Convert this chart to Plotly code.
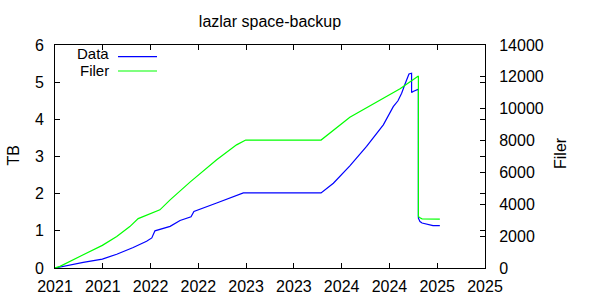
import plotly.graph_objects as go
import pandas as pd

# ---- data ----
data_dates = [
    "2021-01-01", "2021-02-08", "2021-04-19", "2021-07-01", "2021-08-25",
    "2021-10-27", "2021-12-17", "2022-01-06", "2022-01-18", "2022-03-17",
    "2022-04-24", "2022-06-05", "2022-06-16", "2022-09-11", "2022-11-26",
    "2022-12-22", "2023-10-15", "2023-12-01", "2024-02-02", "2024-04-06",
    "2024-06-09", "2024-07-17", "2024-08-04", "2024-08-18", "2024-08-31",
    "2024-09-09", "2024-09-15", "2024-09-25", "2024-09-25", "2024-10-01",
    "2024-10-12", "2024-10-21", "2024-10-21", "2024-10-27", "2024-11-04",
    "2024-11-19", "2024-11-30", "2024-12-16", "2025-01-11",
]
data_tb = [
    0.0, 0.06, 0.15, 0.24, 0.37,
    0.55, 0.72, 0.81, 1.00, 1.12,
    1.28, 1.38, 1.52, 1.75, 1.94,
    2.02, 2.02, 2.28, 2.75, 3.27,
    3.85, 4.34, 4.50, 4.70, 4.95,
    5.11, 5.22, 5.24, 4.72, 4.75,
    4.78, 4.81, 1.34, 1.25, 1.21,
    1.18, 1.16, 1.14, 1.14,
]

filer_dates = [
    "2021-01-01", "2021-01-20", "2021-04-19", "2021-07-01", "2021-08-25",
    "2021-10-14", "2021-11-15", "2021-12-30", "2022-02-06", "2022-03-17",
    "2022-06-01", "2022-09-11", "2022-11-26", "2022-12-31", "2023-10-15",
    "2024-02-02", "2024-06-09", "2024-08-12", "2024-10-21", "2024-10-21",
    "2024-10-27", "2024-11-04", "2025-01-11",
]
filer_count = [
    0, 100, 830, 1420, 1980,
    2600, 3100, 3400, 3650, 4280,
    5390, 6790, 7730, 8030, 8030,
    9470, 10660, 11250, 12050, 3235,
    3150, 3090, 3070,
]

x_tick_labels = ["2021", "2021", "2022", "2022", "2023",
                 "2023", "2024", "2024", "2025", "2025"]
title_text = "lazlar space-backup"
series_names = ["Data", "Filer"]
y_title = "TB"
y2_title = "Filer"

# ---- layout helpers ----
FONT = "Liberation Sans, Arial, Helvetica, sans-serif"
W, H = 600, 300
PL, PR, PT, PB = 55, 485, 45, 268  # plot box in pixels


def px_x(x):
    return (x - PL) / (PR - PL)


def px_y(y):
    return (PB - y) / (PB - PT)


start = pd.Timestamp("2021-01-01")
step = pd.Timedelta(days=182.625)
tick_vals = [start + k * step for k in range(len(x_tick_labels))]
x_end = tick_vals[-1]

fig = go.Figure()
fig.add_trace(go.Scatter(
    x=pd.to_datetime(data_dates), y=data_tb, mode="lines",
    line=dict(color="#0000ff", width=1.2), name=series_names[0],
    yaxis="y",
))
fig.add_trace(go.Scatter(
    x=pd.to_datetime(filer_dates), y=filer_count, mode="lines",
    line=dict(color="#00ff00", width=1.2), name=series_names[1],
    yaxis="y2",
))

axis_common = dict(
    showgrid=False, zeroline=False, showline=True, linecolor="black",
    linewidth=1, ticks="inside", ticklen=5, tickwidth=1, tickcolor="black",
    automargin=False,
    tickfont=dict(family=FONT, size=16, color="black"),
)

fig.update_layout(
    width=W, height=H,
    margin=dict(l=PL, r=W - PR, t=PT, b=H - PB, autoexpand=False),
    plot_bgcolor="white", paper_bgcolor="white",
    showlegend=False,
    font=dict(family=FONT, size=16, color="black"),
    title=dict(text=title_text, x=270 / W, xanchor="center",
               y=1 - 21 / H, yanchor="middle",
               font=dict(family=FONT, size=16, color="black")),
    xaxis=dict(type="date", range=[start, x_end], tickmode="array",
               tickvals=tick_vals, ticktext=x_tick_labels, mirror="ticks",
               ticklabelstandoff=4, **axis_common),
    yaxis=dict(range=[0, 6], dtick=1, tick0=0, mirror="ticks",
               ticklabelstandoff=7, **axis_common),
    yaxis2=dict(range=[0, 14000], dtick=2000, tick0=0, overlaying="y",
                side="right", ticklabelstandoff=10, tickformat="d",
                exponentformat="none", **axis_common),
)

# axis titles
fig.add_annotation(text=y_title, xref="paper", yref="paper",
                   x=px_x(12.5), y=px_y(156), textangle=-90,
                   showarrow=False, xanchor="center", yanchor="middle",
                   font=dict(family=FONT, size=16, color="black"))
fig.add_annotation(text=y2_title, xref="paper", yref="paper",
                   x=px_x(560), y=px_y(153), textangle=-90,
                   showarrow=False, xanchor="center", yanchor="middle",
                   font=dict(family=FONT, size=16, color="black"))

# gnuplot-style key: text right-aligned, sample line to its right
key_rows = [(series_names[0], "#0000ff", 53, 56.7),
            (series_names[1], "#00ff00", 70, 71)]
for name, color, ty, ly in key_rows:
    fig.add_annotation(text=name, xref="paper", yref="paper",
                       x=px_x(110), y=px_y(ty), showarrow=False,
                       xanchor="right", yanchor="middle", borderpad=0,
                       font=dict(family=FONT, size=15, color="black"))
    fig.add_shape(type="line", xref="paper", yref="paper",
                  x0=px_x(118), x1=px_x(157), y0=px_y(ly), y1=px_y(ly),
                  line=dict(color=color, width=1.2))

fig.write_html("out.html")
